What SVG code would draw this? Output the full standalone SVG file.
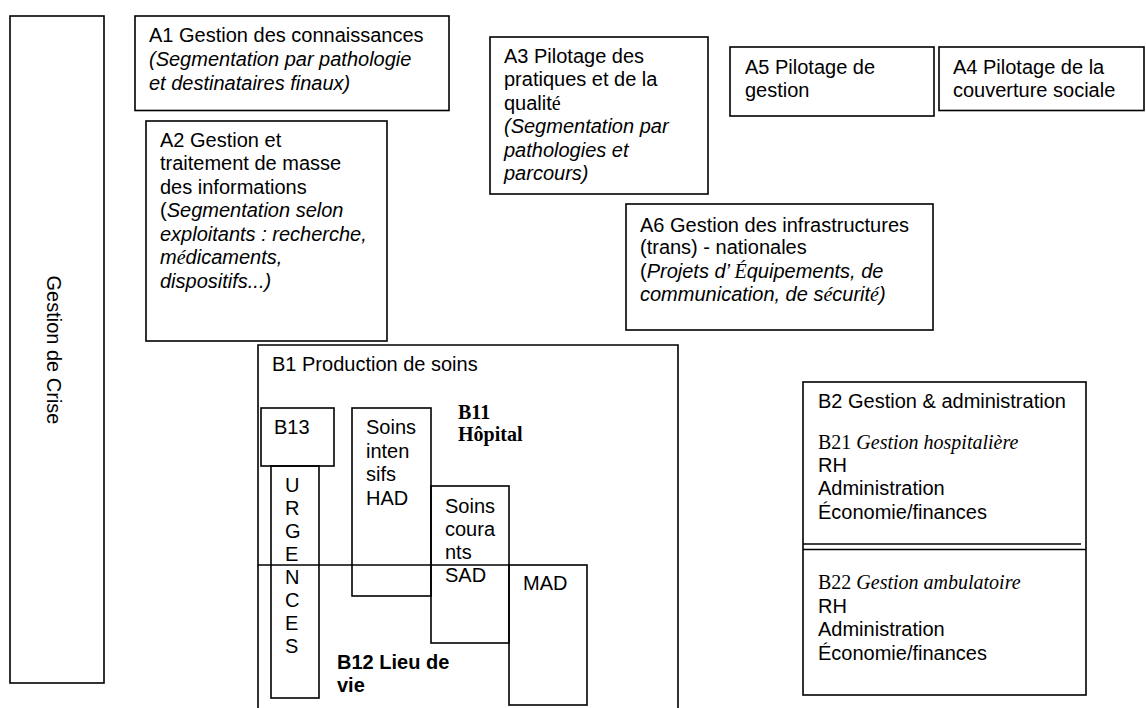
<svg xmlns="http://www.w3.org/2000/svg" width="1146" height="708" viewBox="0 0 1146 708">
<style>
.box{fill:none;stroke:#000;stroke-width:1.6}
.ln{fill:none;stroke:#000;stroke-width:1.6}
text{font-family:"Liberation Sans",Arial,sans-serif;font-size:20px;fill:#000}
.i{font-style:italic}
.s{font-family:"Liberation Serif","Times New Roman",serif}
.b{font-weight:bold}
</style>
<rect width="1146" height="708" fill="#fff"/>
<g id="crise">
<rect class="box" x="10" y="16" width="94" height="667"/>
<text transform="translate(47,350) rotate(90)" text-anchor="middle">Gestion de Crise</text>
</g>
<g id="A1">
<rect class="box" x="135" y="16" width="314" height="94.5"/>
<text x="149" y="41.5">A1 Gestion des connaissances</text>
<text x="149" y="65.5" class="i">(Segmentation par pathologie</text>
<text x="149" y="89.5" class="i">et destinataires finaux)</text>
</g>
<g id="A2">
<rect class="box" x="146" y="121" width="241" height="220"/>
<text x="160" y="146.5">A2 Gestion et</text>
<text x="160" y="170">traitement de masse</text>
<text x="160" y="193.5">des informations</text>
<text x="160" y="217">(<tspan class="i">Segmentation selon</tspan></text>
<text x="160" y="240.5" class="i">exploitants : recherche,</text>
<text x="160" y="264" class="i">m<tspan class="s">é</tspan>dicaments,</text>
<text x="160" y="287.5" class="i">dispositifs...)</text>
</g>
<g id="A3">
<rect class="box" x="490" y="37" width="218" height="157"/>
<text x="504" y="62.5">A3 Pilotage des</text>
<text x="504" y="86">pratiques et de la</text>
<text x="504" y="109.5">qualit<tspan class="s">é</tspan></text>
<text x="504" y="133" class="i">(Segmentation par</text>
<text x="504" y="156.5" class="i">pathologies et</text>
<text x="504" y="180" class="i">parcours)</text>
</g>
<g id="A5">
<rect class="box" x="730" y="47" width="204" height="69"/>
<text x="745" y="74">A5 Pilotage de</text>
<text x="745" y="97">gestion</text>
</g>
<g id="A4">
<rect class="box" x="939" y="47" width="205" height="63.5"/>
<text x="953" y="74">A4 Pilotage de la</text>
<text x="953" y="97">couverture sociale</text>
</g>
<g id="A6">
<rect class="box" x="626" y="204" width="307" height="126"/>
<text x="640" y="231.5">A6 Gestion des infrastructures</text>
<text x="640" y="254">(trans) - nationales</text>
<text x="640" y="277.5">(<tspan class="i">Projets d’ <tspan class="s">É</tspan>quipements, de</tspan></text>
<text x="640" y="301" class="i">communication, de s<tspan class="s">é</tspan>curit<tspan class="s">é</tspan>)</text>
</g>
<g id="B1">
<path class="ln" d="M258,712 V345 H678 V712"/>
<text x="272" y="371">B1 Production de soins</text>
</g>
<g id="B11">
<text x="458" y="418.5" class="s b">B11</text>
<text x="458" y="441" class="s b">Hôpital</text>
</g>
<g id="B13">
<rect class="box" x="261" y="408" width="73" height="58"/>
<text x="274" y="434">B13</text>
</g>
<g id="urgences">
<rect class="box" x="271" y="466" width="48" height="232"/>
<text x="285" y="492">U</text>
<text x="285" y="515">R</text>
<text x="285" y="538">G</text>
<text x="285" y="561">E</text>
<text x="285" y="584">N</text>
<text x="285" y="607">C</text>
<text x="285" y="630">E</text>
<text x="285" y="653">S</text>
</g>
<g id="soins-intensifs">
<rect class="box" x="352" y="408" width="79" height="188"/>
<text x="366" y="434">Soins</text>
<text x="366" y="457.5">inten</text>
<text x="366" y="481">sifs</text>
<text x="366" y="504.5">HAD</text>
</g>
<g id="soins-courants">
<rect class="box" x="431" y="486" width="78" height="157"/>
<text x="445" y="513">Soins</text>
<text x="445" y="536">coura</text>
<text x="445" y="559">nts</text>
<text x="445" y="582">SAD</text>
</g>
<g id="B12">
<path class="ln" d="M258,565 H509"/>
<text x="337" y="669" class="b">B12 Lieu de</text>
<text x="337" y="692" class="b">vie</text>
</g>
<g id="MAD">
<rect class="box" x="509" y="565" width="78" height="140"/>
<text x="523" y="590">MAD</text>
</g>
<g id="B2">
<rect class="box" x="803" y="382" width="283" height="313"/>
<path class="ln" d="M803,544 H1081 M803,549.5 H1086"/>
<text x="818" y="407.5">B2 Gestion &amp; administration</text>
<text x="818" y="448.5" class="s">B21 <tspan class="i">Gestion hospitalière</tspan></text>
<text x="818" y="472">RH</text>
<text x="818" y="495">Administration</text>
<text x="818" y="518.5">Économie/finances</text>
<text x="818" y="589" class="s">B22 <tspan class="i">Gestion ambulatoire</tspan></text>
<text x="818" y="612.5">RH</text>
<text x="818" y="636">Administration</text>
<text x="818" y="659.5">Économie/finances</text>
</g>
</svg>
